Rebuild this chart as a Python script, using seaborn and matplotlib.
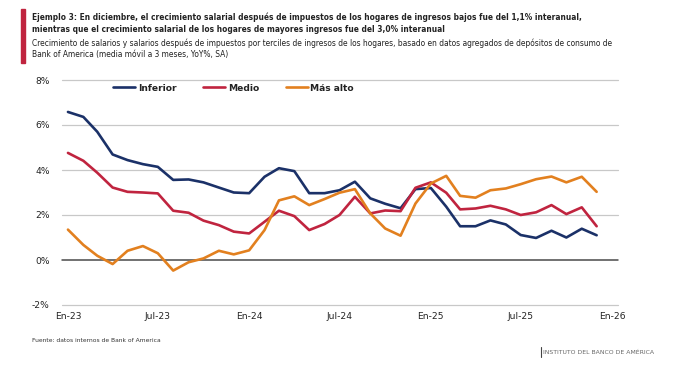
import matplotlib
matplotlib.use('Agg')
import matplotlib.pyplot as plt
import seaborn as sns
import pandas as pd

meses = pd.date_range('2023-01-01', periods=36, freq='MS')

inferior = [6.58, 6.36, 5.70, 4.69, 4.44, 4.26, 4.14, 3.56, 3.58, 3.45, 3.22, 3.00,
            2.97, 3.70, 4.08, 3.95, 2.97, 2.97, 3.10, 3.48, 2.74, 2.50, 2.30, 3.15,
            3.20, 2.37, 1.50, 1.50, 1.76, 1.58, 1.11, 0.98, 1.30, 1.00, 1.39, 1.10]
medio = [4.76, 4.41, 3.88, 3.22, 3.03, 3.00, 2.96, 2.19, 2.10, 1.75, 1.55, 1.26,
         1.18, 1.70, 2.19, 1.95, 1.33, 1.60, 2.00, 2.81, 2.07, 2.20, 2.17, 3.21,
         3.45, 2.99, 2.25, 2.29, 2.41, 2.25, 2.00, 2.12, 2.44, 2.04, 2.34, 1.50]
mas_alto = [1.35, 0.67, 0.19, -0.18, 0.41, 0.62, 0.30, -0.47, -0.10, 0.07, 0.41, 0.25,
            0.43, 1.33, 2.65, 2.83, 2.44, 2.71, 2.99, 3.15, 2.07, 1.40, 1.08, 2.51,
            3.40, 3.74, 2.85, 2.77, 3.10, 3.18, 3.37, 3.59, 3.71, 3.45, 3.70, 3.03]

series = ['Inferior', 'Medio', 'Más alto']
colores = ['#1b3168', '#c0243f', '#e2801f']

tick_fechas = pd.to_datetime(['2023-01-01', '2023-07-01', '2024-01-01', '2024-07-01',
                              '2025-01-01', '2025-07-01', '2026-01-01'])
tick_labels = ['En-23', 'Jul-23', 'En-24', 'Jul-24', 'En-25', 'Jul-25', 'En-26']
y_ticks = [-2, 0, 2, 4, 6, 8]

titulo = ['Ejemplo 3: En diciembre, el crecimiento salarial después de impuestos de los hogares de ingresos bajos fue del 1,1% interanual,',
          'mientras que el crecimiento salarial de los hogares de mayores ingresos fue del 3,0% interanual']
subtitulo = ['Crecimiento de salarios y salarios después de impuestos por terciles de ingresos de los hogares, basado en datos agregados de depósitos de consumo de',
             'Bank of America (media móvil a 3 meses, YoY%, SA)']
fuente = 'Fuente: datos internos de Bank of America'
marca = 'INSTITUTO DEL BANCO DE AMÉRICA'

df = pd.DataFrame({'fecha': list(meses) * 3,
                   'valor': inferior + medio + mas_alto,
                   'grupo': [s for s in series for _ in range(36)]})

sns.set_style('white')
plt.rcParams['font.family'] = ['DejaVu Sans']

W, H = 675, 381
fig = plt.figure(figsize=(6.75, 3.81), dpi=100)
renderer = fig.canvas.get_renderer()


def texto_ajustado(x, y, s, ancho, fs, **kw):
    # ajusta el tamaño de letra para que el texto ocupe 'ancho' pixeles
    t = fig.text(x / W, 1 - y / H, s, fontsize=fs, va='center', **kw)
    w = t.get_window_extent(renderer).width
    t.set_fontsize(fs * ancho / w)
    return t.get_fontsize()


ax = fig.add_axes([62 / W, 1 - 305 / H, 556 / W, 225 / H])

for y in y_ticks:
    ax.axhline(y, color='#4a4a4a' if y == 0 else '#c8c8c8', lw=1.1 if y == 0 else 0.9,
               zorder=0, clip_on=False)

sns.lineplot(data=df, x='fecha', y='valor', hue='grupo', palette=colores,
             linewidth=1.9, ax=ax)

ax.set_ylim(-2, 8)
ax.set_xlim(meses[0] - pd.Timedelta(days=12), pd.Timestamp('2026-01-13'))
ax.set_yticks(y_ticks)
ax.set_yticklabels([f'{v}%' for v in y_ticks], fontsize=6.6, color='#222222')
ax.set_xticks(tick_fechas)
ax.set_xticklabels(tick_labels, fontsize=6.6, color='#222222')
ax.tick_params(axis='y', length=0, pad=9)
ax.tick_params(axis='x', length=0, pad=5)
ax.set_xlabel('')
ax.set_ylabel('')
for s in ax.spines.values():
    s.set_visible(False)

leg = ax.legend(loc='center left', bbox_to_anchor=(0.092, 0.964), ncol=3, frameon=False,
                fontsize=6.6, handlelength=2.4, columnspacing=2.9, handletextpad=0.3,
                borderaxespad=0, borderpad=0)
for t in leg.get_texts():
    t.set_fontweight('bold')
    t.set_color('#222222')

# titulo
fig.patches.append(plt.Rectangle((21 / W, 1 - 63 / H), 4 / W, 54 / H,
                                 transform=fig.transFigure, color='#c0243f'))
fs1 = texto_ajustado(32, 17, titulo[0], 552, 7, fontweight='bold', color='#222222')
fig.text(32 / W, 1 - 29 / H, titulo[1], fontsize=fs1, fontweight='bold',
         color='#222222', va='center')
fs2 = texto_ajustado(32, 43, subtitulo[0], 589, 6, color='#222222')
fig.text(32 / W, 1 - 55 / H, subtitulo[1], fontsize=fs2, color='#222222', va='center')

texto_ajustado(32, 341, fuente, 128, 5, color='#333333')
texto_ajustado(543, 352, marca, 110, 5, color='#666666')
fig.add_artist(plt.Line2D([541 / W, 541 / W], [1 - 347 / H, 1 - 357 / H],
                          transform=fig.transFigure, color='#444444', lw=0.8))

fig.savefig('out.png', dpi=100)
